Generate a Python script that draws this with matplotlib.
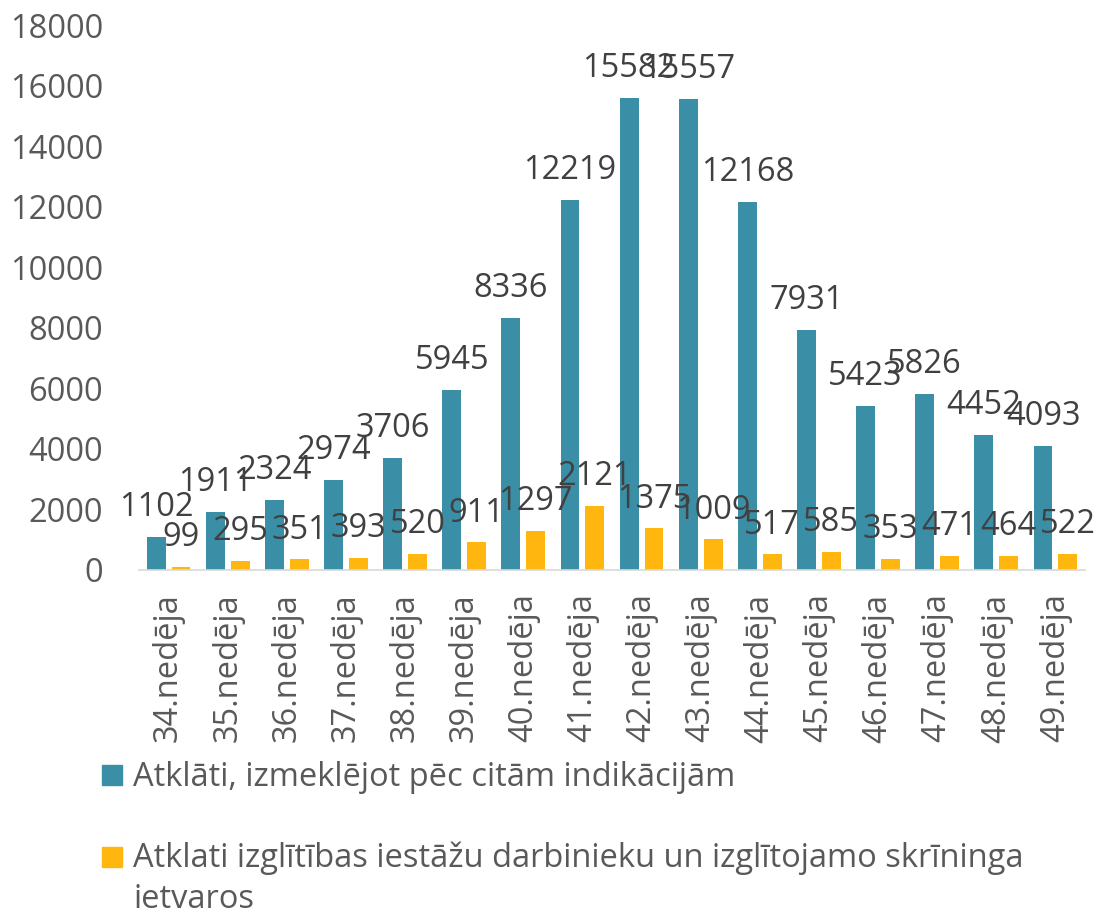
import matplotlib
matplotlib.use("Agg")
import matplotlib.pyplot as plt
from matplotlib.patches import Rectangle
import numpy as np

weeks = ["34.nedēja", "35.nedēja", "36.nedēja", "37.nedēja", "38.nedēja", "39.nedēja",
         "40.nedēja", "41.nedēja", "42.nedēja", "43.nedēja", "44.nedēja", "45.nedēja",
         "46.nedēja", "47.nedēja", "48.nedēja", "49.nedēja"]
other_indications = [1102, 1911, 2324, 2974, 3706, 5945, 8336, 12219, 15582, 15557,
                     12168, 7931, 5423, 5826, 4452, 4093]
school_screening = [99, 295, 351, 393, 520, 911, 1297, 2121, 1375, 1009,
                    517, 585, 353, 471, 464, 522]
series_names = ["Atklāti, izmeklējot pēc citām indikācijām",
                "Atklati izglītības iestāžu darbinieku un izglītojamo skrīninga\nietvaros"]
yticks = list(range(0, 18001, 2000))

TEAL = "#3A8FA7"
YELLOW = "#FFB70F"
TXT = "#595959"
LBL = "#404040"
FS = 23.5

plt.rcParams['font.family'] = ['Open Sans', 'DejaVu Sans']

fig = plt.figure(figsize=(10.94, 9.17), dpi=100)
ax = fig.add_axes([139/1094, 1-570/917, (1085-139)/1094, (570-25)/917])

x = np.arange(len(weeks))
w = 0.32
off = 0.21
b1 = ax.bar(x - off, other_indications, width=w, color=TEAL)
b2 = ax.bar(x + off, school_screening, width=w, color=YELLOW)

for bars, vals in ((b1, other_indications), (b2, school_screening)):
    for r, v in zip(bars, vals):
        ax.annotate(str(v), (r.get_x() + r.get_width()/2, r.get_height()),
                    xytext=(0, 15), textcoords="offset points", ha="center",
                    va="baseline", fontsize=FS, color=LBL)

ax.set_xlim(-0.5, len(weeks) - 0.5)
ax.set_ylim(0, 18000)
ax.set_yticks(yticks)
ax.set_yticklabels([str(t) for t in yticks])
ax.set_xticks(x)
ax.set_xticklabels(weeks, rotation=90)
ax.tick_params(axis='y', length=0, pad=26, labelsize=FS, labelcolor=TXT)
ax.tick_params(axis='x', length=0, pad=17, labelsize=FS, labelcolor=TXT)
for s in ["top", "right", "left"]:
    ax.spines[s].set_visible(False)
ax.spines["bottom"].set_color("#D9D9D9")
ax.spines["bottom"].set_linewidth(1.2)

# legend
def fx(px):
    return px / 1094
def fy(py):
    return 1 - py / 917

fig.patches.append(Rectangle((fx(102), fy(785)), 20/1094, 20/917, color=TEAL,
                             transform=fig.transFigure, figure=fig))
fig.text(fx(133), fy(777), series_names[0], fontsize=FS, color=TXT, va="center", ha="left")
fig.patches.append(Rectangle((fx(102), fy(867)), 20/1094, 20/917, color=YELLOW,
                             transform=fig.transFigure, figure=fig))
fig.text(fx(133), fy(858), series_names[1].split("\n")[0], fontsize=FS, color=TXT, va="center", ha="left")
fig.text(fx(133), fy(900), series_names[1].split("\n")[1], fontsize=FS, color=TXT, va="center", ha="left")

fig.savefig("out.png", dpi=100)
